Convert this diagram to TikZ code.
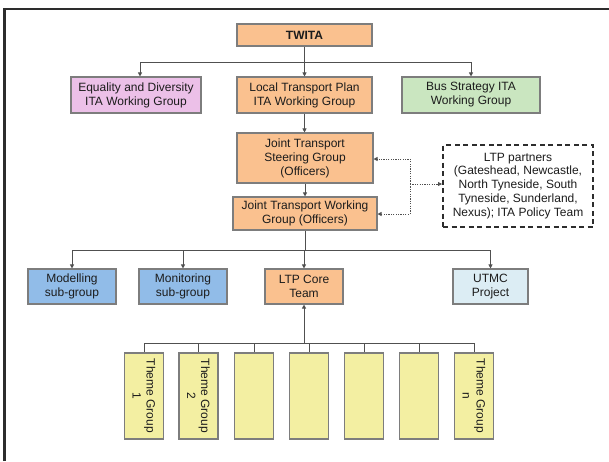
\documentclass[tikz,border=0pt]{standalone}
\usepackage{fontspec}
\setmainfont{Liberation Sans}
\usetikzlibrary{arrows.meta,calc}
\definecolor{borange}{RGB}{250,193,143}
\definecolor{bpink}{RGB}{236,192,232}
\definecolor{bgreen}{RGB}{202,230,192}
\definecolor{bblue}{RGB}{145,188,232}
\definecolor{butmc}{RGB}{220,237,244}
\definecolor{byellow}{RGB}{243,239,162}
\definecolor{bedge}{RGB}{125,125,125}
\definecolor{lnk}{RGB}{80,80,80}
\definecolor{txt}{RGB}{28,28,28}
\begin{document}
\begin{tikzpicture}[x=1pt,y=-1pt,
  font=\fontsize{12}{13.9}\selectfont,
  box/.style={draw=bedge,line width=1.1pt,align=center,text=txt,inner sep=1pt},
  link/.style={draw=lnk,line width=0.9pt},
  arr/.style={link,-{Triangle[length=4pt,width=4pt]}},
  dotlink/.style={draw=lnk,line width=0.8pt,dash pattern=on 1.2pt off 1.2pt,-{Triangle[length=4pt,width=4pt]}}
]
\useasboundingbox (0,0) rectangle (609,461);
\fill[white] (0,0) rectangle (609,461);
% frame
\draw[line width=2.5pt,draw={rgb,255:red,45;green,45;blue,45}] (4.5,461) -- (4.5,9) -- (609,9);

% nodes
\node[box,fill=borange,minimum width=135pt,minimum height=22pt,font=\fontsize{12}{13.9}\selectfont\bfseries] (twita) at (304.5,35) {TWITA};
\node[box,fill=bpink,minimum width=130pt,minimum height=36pt] (eq) at (136,95) {Equality and Diversity\\ITA Working Group};
\node[box,fill=borange,minimum width=135pt,minimum height=36pt] (ltp) at (304.5,95) {Local Transport Plan\\ITA Working Group};
\node[box,fill=bgreen,minimum width=138pt,minimum height=36pt] (bus) at (471,95) {Bus Strategy ITA\\Working Group};
\node[box,fill=borange,minimum width=136pt,minimum height=50pt] (steer) at (305,158) {Joint Transport\\Steering Group\\(Officers)};
\node[box,fill=borange,minimum width=144pt,minimum height=33pt] (work) at (305,213.5) {Joint Transport Working\\Group (Officers)};
\node[draw={rgb,255:red,45;green,45;blue,45},line width=2pt,dash pattern=on 5pt off 3.5pt,align=center,text=txt,minimum width=150pt,minimum height=82pt,inner sep=1pt] (part) at (518,186) {LTP partners\\(Gateshead, Newcastle,\\North Tyneside, South\\Tyneside, Sunderland,\\Nexus); ITA Policy Team};
\node[box,fill=bblue,minimum width=88pt,minimum height=35pt] (mod) at (72,286.5) {Modelling\\sub-group};
\node[box,fill=bblue,minimum width=88pt,minimum height=35pt] (mon) at (183,286.5) {Monitoring\\sub-group};
\node[box,fill=borange,minimum width=78pt,minimum height=35pt] (core) at (304,286.5) {LTP Core\\Team};
\node[box,fill=butmc,minimum width=75pt,minimum height=35pt] (utmc) at (490.5,286.5) {UTMC\\Project};

\tikzset{theme/.style={box,fill=byellow,minimum width=39pt,minimum height=86pt}}
\node[theme] (t1) at (144,396) {};
\node[theme] (t2) at (198.5,396) {};
\node[theme] (t3) at (254,396) {};
\node[theme] (t4) at (309,396) {};
\node[theme] (t5) at (364,396) {};
\node[theme] (t6) at (419,396) {};
\node[theme] (t7) at (474,396) {};
\node[rotate=-90,align=center,text=txt,inner sep=0pt] (t1l) at (t1) {Theme Group\\1};
\node[rotate=-90,align=center,text=txt,inner sep=0pt] (t2l) at (t2) {Theme Group\\2};
\node[rotate=-90,align=center,text=txt,inner sep=0pt] (t7l) at (t7) {Theme Group\\n};

% connectors
\coordinate (h1) at (304.5,62);
\draw[link] (twita.south) -- (h1);
\draw[arr] (h1) -| ($(eq.north)+(4,0)$);
\draw[arr] (h1) -| (bus.north);
\draw[arr] (h1) -- (ltp.north);
\draw[arr] (ltp.south) -- (ltp.south |- steer.north);
\draw[arr] (steer.south -| work.north) -- (work.north);

\coordinate (h2) at (305,250);
\draw[link] (work.south) -- (h2);
\draw[arr] (h2) -| (mod.north);
\draw[arr] (h2) -| (mon.north);
\draw[arr] (h2) -| (utmc.north);
\draw[arr] (h2 -| core.north) -- (core.north);

\coordinate (h3) at (304,343);
\draw[arr] (h3) -- (core.south);
\draw[link] (h3) -| (t1.north);
\draw[link] (h3) -| (t2.north);
\draw[link] (h3) -| (t3.north);
\draw[link] (h3 -| t4.north) -- (t4.north);
\draw[link] (h3) -| (t5.north);
\draw[link] (h3) -| (t6.north);
\draw[link] (h3) -| (t7.north);

% dotted links
\coordinate (dv) at (410,184);
\draw[dotlink] (dv) |- ($(steer.east)+(0,1)$);
\draw[dotlink] (dv) |- ($(work.east)+(0,0.5)$);
\draw[dotlink] (dv) -- (dv -| part.west);
\end{tikzpicture}
\end{document}
